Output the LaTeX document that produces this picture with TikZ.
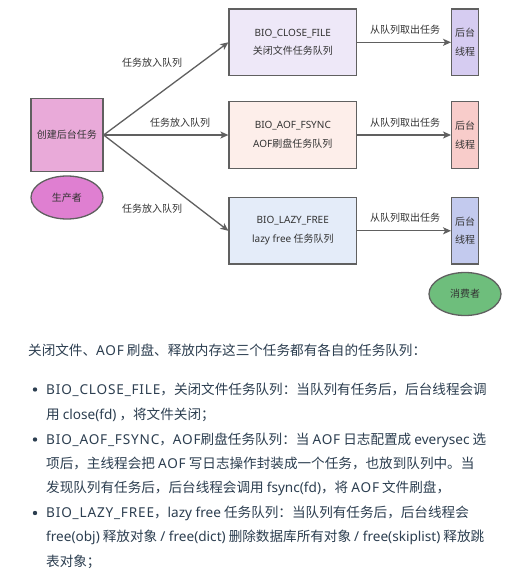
\documentclass[tikz,border=0pt]{standalone}
\usepackage{fontspec}
\setmainfont{Noto Sans CJK SC}
\newfontfamily\latin{Noto Sans}
\newfontfamily\latincaps[LetterSpace=6]{Noto Sans}
\usetikzlibrary{arrows.meta,shapes.geometric}
\newcommand\en[1]{{\latin #1}}
\newcommand\idf[1]{{\latincaps #1}}

\definecolor{linegray}{HTML}{606060}
\definecolor{diagtext}{HTML}{333333}
\definecolor{bodytext}{HTML}{2C3E50}
\definecolor{prodfill}{HTML}{E9AAD9}
\definecolor{prodell}{HTML}{DF7FD1}
\definecolor{qone}{HTML}{EEE8F8}
\definecolor{qtwo}{HTML}{FDEEEA}
\definecolor{qthree}{HTML}{E4ECF9}
\definecolor{tone}{HTML}{D6CCF1}
\definecolor{ttwo}{HTML}{F8CCCA}
\definecolor{tthree}{HTML}{C3CAEE}
\definecolor{consfill}{HTML}{6EBE7C}

\tikzset{
  box/.style={draw=linegray, line width=1.3pt, text=diagtext,
    font=\fontsize{10}{18.5}\selectfont, align=center, inner sep=0pt},
  queuebox/.style={box, minimum width=127.5, minimum height=66.5},
  threadbox/.style={box, minimum width=26.6, minimum height=66.5},
  role/.style={box, ellipse, minimum width=72, minimum height=43},
  flow/.style={draw=linegray, line width=1.3pt,
    -{Stealth[length=8pt,width=7pt,inset=2pt]}},
  flowlabel/.style={text=diagtext, font=\fontsize{10}{12}\selectfont, inner sep=0pt},
  bodyline/.style={anchor=base west, inner sep=0pt, text=bodytext,
    font=\fontsize{13.6}{16}\selectfont},
  bullet/.style={circle, fill=bodytext, inner sep=0pt, minimum size=4.4}
}

\begin{document}
\begin{tikzpicture}[x=1pt, y=-1pt]
  \useasboundingbox (0,0) rectangle (511,574);
  \fill[white] (0,0) rectangle (511,574);

  % producer
  \node[box, fill=prodfill, minimum width=72, minimum height=73] (prod) at (67,135) {创建后台任务};
  \node[role, fill=prodell] (producer) at (67,197.5) {生产者};

  % task queues
  \node[queuebox, fill=qone]   (q1) at (292.8,42.3)  {\en{BIO\_CLOSE\_FILE}\\关闭文件任务队列};
  \node[queuebox, fill=qtwo]   (q2) at (292.8,135)   {\en{BIO\_AOF\_FSYNC}\\\en{AOF}刷盘任务队列};
  \node[queuebox, fill=qthree] (q3) at (292.8,230.8) {\en{BIO\_LAZY\_FREE}\\\en{lazy free} 任务队列};

  % background threads
  \node[threadbox, fill=tone]   (t1) at (465,42.3)  {后台\\线程};
  \node[threadbox, fill=ttwo]   (t2) at (465,135)   {后台\\线程};
  \node[threadbox, fill=tthree] (t3) at (465,230.8) {后台\\线程};

  \node[role, fill=consfill] (consumer) at (465,294) {消费者};

  % enqueue
  \draw[flow] (prod.east) -- (q1.west);
  \draw[flow] (prod.east) -- (q2.west);
  \draw[flow] (prod.east) -- (q3.west);
  \node[flowlabel] (l1) at (152,63)  {任务放入队列};
  \node[flowlabel] (l2) at (180,123) {任务放入队列};
  \node[flowlabel] (l3) at (152,209) {任务放入队列};

  % dequeue
  \draw[flow] (q1.east) -- (t1.west);
  \draw[flow] (q2.east) -- (t2.west);
  \draw[flow] (q3.east) -- (t3.west);
  \node[flowlabel] (d1) at (405,30)  {从队列取出任务};
  \node[flowlabel] (d2) at (405,123) {从队列取出任务};
  \node[flowlabel] (d3) at (405,218) {从队列取出任务};

  % description text
  \node[bodyline] (p0) at (28,355) {关闭文件、\idf{AOF} 刷盘、释放内存这三个任务都有各自的任务队列：};

  \node[bullet] (b1) at (35,389.5) {};
  \node[bodyline] (p1) at (46,394) {\idf{BIO\_CLOSE\_FILE}，关闭文件任务队列：当队列有任务后，后台线程会调};
  \node[bodyline] (p2) at (46,419) {用 \en{close(fd)} ，将文件关闭；};

  \node[bullet] (b2) at (35,439.5) {};
  \node[bodyline] (p3) at (46,444) {\idf{BIO\_AOF\_FSYNC}，\idf{AOF}刷盘任务队列：当 \idf{AOF} 日志配置成 \en{everysec} 选};
  \node[bodyline] (p4) at (46,468) {项后，主线程会把 \idf{AOF} 写日志操作封装成一个任务，也放到队列中。当};
  \node[bodyline] (p5) at (46,492.5) {发现队列有任务后，后台线程会调用 \en{fsync(fd)}，将 \idf{AOF} 文件刷盘，};

  \node[bullet] (b3) at (35,513) {};
  \node[bodyline] (p6) at (46,517.5) {\idf{BIO\_LAZY\_FREE}，\en{lazy free} 任务队列：当队列有任务后，后台线程会};
  \node[bodyline] (p7) at (46,541.5) {\en{free(obj)} 释放对象 \en{/ free(dict)} 删除数据库所有对象 \en{/ free(skiplist)} 释放跳};
  \node[bodyline] (p8) at (46,566) {表对象；};
\end{tikzpicture}
\end{document}
